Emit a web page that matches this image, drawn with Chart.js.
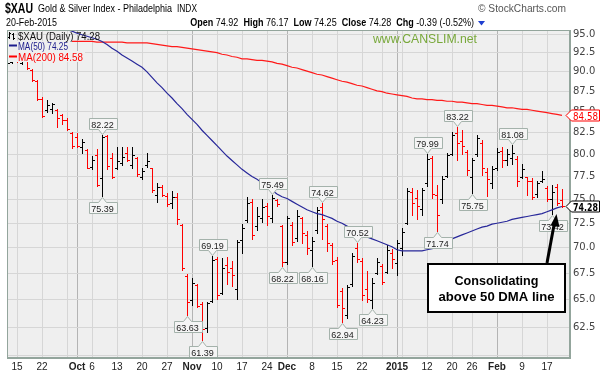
<!DOCTYPE html>
<html>
<head>
<meta charset="utf-8">
<script src="https://cdn.jsdelivr.net/npm/chart.js@4.4.1/dist/chart.umd.min.js"></script>
<style>
  html, body { margin: 0; padding: 0; background: #fff; }
  canvas { display: block; }
</style>
</head>
<body>
<canvas id="chart" width="606" height="374"></canvas>
<script>
// trading days shown (MM-DD), Sep 11 2014 .. Feb 20 2015
const dates = [
  '09-11','09-12','09-15','09-16','09-17','09-18','09-19','09-22','09-23','09-24','09-25','09-26','09-29','09-30',
  '10-01','10-02','10-03','10-06','10-07','10-08','10-09','10-10','10-13','10-14','10-15','10-16','10-17',
  '10-20','10-21','10-22','10-23','10-24','10-27','10-28','10-29','10-30','10-31',
  '11-03','11-04','11-05','11-06','11-07','11-10','11-11','11-12','11-13','11-14','11-17','11-18','11-19','11-20','11-21',
  '11-24','11-25','11-26','11-28',
  '12-01','12-02','12-03','12-04','12-05','12-08','12-09','12-10','12-11','12-12','12-15','12-16','12-17','12-18','12-19',
  '12-22','12-23','12-24','12-26','12-29','12-30','12-31',
  '01-02','01-05','01-06','01-07','01-08','01-09','01-12','01-13','01-14','01-15','01-16','01-20','01-21','01-22','01-23',
  '01-26','01-27','01-28','01-29','01-30',
  '02-02','02-03','02-04','02-05','02-06','02-09','02-10','02-11','02-12','02-13','02-17','02-18','02-19','02-20'
];

const opens = [
  91.4, 91.3, 91.7, 91.1, 91.4, 90.3, 88.8, 86.6, 85.2, 85.4,
  85.2, 84.6, 84.0, 82.5, 82.0, 80.8, 80.5, 78.6, 79.9, 77.3,
  82.1, 79.6, 78.5, 79.0, 80.2, 78.8, 79.6, 77.5, 78.8, 78.4,
  75.5, 76.3, 75.4, 74.6, 75.3, 72.3, 67.2, 65.0, 66.4, 64.6,
  62.4, 64.9, 68.9, 65.6, 68.3, 68.0, 66.0, 70.8, 72.8, 74.7,
  72.2, 73.0, 74.3, 73.0, 74.9, 72.2, 68.6, 72.3, 71.0, 73.0,
  71.3, 69.8, 71.8, 74.2, 72.2, 70.3, 68.8, 65.8, 63.6, 66.5,
  70.0, 68.7, 66.0, 65.0, 67.5, 68.2, 67.6, 69.5, 68.5, 70.0,
  72.5, 75.8, 75.2, 74.0, 76.8, 79.6, 75.5, 75.0, 77.6, 80.0,
  82.5, 81.5, 80.3, 77.5, 80.0, 81.3, 78.0, 76.8, 78.5, 80.4,
  79.3, 79.6, 79.5, 77.5, 77.4, 77.0, 75.6, 77.0, 76.2, 75.0,
  76.3, 74.92
];
const highs = [
  91.5, 91.9, 92.0, 91.8, 91.6, 90.4, 89.0, 86.8, 86.4, 86.1,
  85.3, 84.7, 84.3, 82.6, 82.5, 81.8, 80.6, 79.8, 80.6, 82.22,
  82.2, 80.1, 80.8, 80.8, 80.8, 80.8, 79.7, 78.4, 80.1, 78.5,
  76.8, 76.6, 75.7, 75.9, 75.7, 72.4, 67.4, 67.0, 66.5, 64.8,
  64.8, 69.19, 69.1, 69.0, 69.1, 68.7, 70.8, 72.4, 75.3, 75.0,
  74.2, 75.0, 74.6, 75.49, 75.0, 72.3, 73.2, 72.6, 73.9, 73.1,
  71.7, 71.1, 74.2, 74.62, 72.4, 70.5, 69.1, 66.1, 66.4, 69.5,
  70.52, 69.0, 67.7, 67.0, 69.0, 68.4, 70.3, 69.9, 70.8, 72.0,
  76.2, 76.2, 76.0, 76.2, 79.99, 79.8, 76.6, 77.6, 80.2, 82.6,
  83.22, 82.8, 80.5, 79.6, 82.2, 81.6, 78.4, 78.7, 80.7, 80.8,
  80.6, 81.08, 79.8, 78.9, 77.5, 77.3, 77.0, 78.1, 76.5, 76.6,
  76.7, 76.17
];
const lows = [
  91.0, 91.1, 91.3, 91.0, 90.4, 88.8, 86.4, 84.4, 85.0, 84.9,
  83.2, 83.6, 82.8, 80.7, 80.8, 80.1, 78.4, 78.3, 76.5, 75.39,
  78.3, 77.3, 78.3, 78.8, 79.2, 78.4, 77.6, 77.2, 78.6, 75.8,
  74.7, 75.4, 74.3, 74.1, 72.4, 67.8, 63.63, 64.5, 64.3, 61.39,
  62.1, 64.8, 65.1, 65.5, 66.5, 66.3, 65.1, 69.5, 72.6, 70.9,
  71.8, 72.6, 72.3, 72.6, 74.3, 68.22, 68.4, 70.3, 70.7, 70.5,
  69.4, 68.16, 71.5, 70.9, 69.7, 68.4, 64.3, 62.94, 63.3, 66.3,
  68.6, 65.0, 64.8, 64.23, 67.4, 66.5, 67.5, 68.0, 67.3, 69.3,
  72.4, 73.4, 72.9, 73.4, 76.5, 75.2, 71.74, 74.6, 77.4, 79.9,
  79.4, 80.0, 77.7, 75.75, 79.8, 77.7, 75.4, 76.2, 78.2, 78.6,
  78.8, 78.9, 76.5, 77.3, 75.5, 75.1, 75.3, 76.9, 74.8, 73.42,
  74.4, 74.25
];
const closes = [
  91.2, 91.6, 91.5, 91.6, 90.5, 88.9, 86.6, 84.5, 85.9, 86.0,
  84.3, 84.0, 83.0, 81.0, 80.9, 81.4, 78.5, 79.4, 76.6, 82.0,
  78.7, 77.5, 79.2, 79.7, 79.4, 79.9, 77.8, 78.1, 79.2, 76.0,
  76.4, 75.5, 74.5, 75.3, 72.9, 68.0, 64.8, 66.6, 64.4, 62.3,
  64.7, 68.8, 65.4, 68.0, 67.6, 67.3, 70.6, 72.0, 74.6, 71.3,
  73.3, 74.2, 73.2, 75.2, 74.5, 68.6, 73.0, 70.6, 73.3, 71.5,
  70.0, 70.7, 73.9, 72.9, 70.5, 68.7, 64.5, 64.2, 66.2, 69.2,
  68.9, 65.4, 65.1, 66.6, 68.6, 66.7, 69.8, 68.9, 70.5, 71.6,
  75.9, 74.6, 74.3, 76.0, 79.5, 75.6, 73.4, 77.2, 79.9, 82.2,
  81.3, 81.0, 78.2, 79.4, 81.9, 78.5, 77.2, 78.3, 80.3, 79.4,
  80.0, 80.2, 77.0, 78.3, 77.0, 75.3, 76.8, 77.2, 75.1, 75.8,
  74.67, 74.28
];

// moving averages (null = off the top of the chart / hidden)
const ma50 = [
  null, null, null, null, null, null, null, null, null, null, null,
  95.8, 95.6, 95.4, 95.1, 94.9, 94.7, 94.5, 94.3, 94.0, 93.6,
  93.1, 92.7, 92.2, 91.8, 91.4, 91.0, 90.6, 90.0, 89.3, 88.6,
  88.0, 87.3, 86.7, 86.0, 85.4, 84.7, 84.1, 83.5, 82.8, 82.2,
  81.6, 81.0, 80.4, 79.8, 79.3, 78.8, 78.3, 77.9, 77.5, 77.2,
  76.8, 76.4, 76.0, 75.6, 75.3, 75.1, 74.8, 74.5, 74.2, 73.9,
  73.7, 73.5, 73.4, 73.2, 73.0, 72.7, 72.5, 72.2, 71.9, 71.6,
  71.4, 71.1, 70.9, 70.7, 70.5, 70.3, 70.1, 69.8, 69.7, 69.7,
  69.7, 69.7, 69.7, 69.8, 69.9, 70.0, 70.3, 70.6, 70.9, 71.1,
  71.3, 71.5, 71.7, 71.9, 72.1, 72.2, 72.4, 72.5, 72.6, 72.7,
  72.9, 73.0, 73.1, 73.2, 73.3, 73.4, 73.5, 73.7, 73.9, 74.1,
  74.25
];
const ma200 = [
  null, null, null, null, null, null, null, null, null, null, null, null, null,
  94.0, 94.0, 94.0, 94.0, 94.0, 93.9, 93.9, 93.9, 93.9, 93.9,
  93.9, 93.8, 93.8, 93.8, 93.8, 93.8, 93.7, 93.6, 93.5, 93.4,
  93.3, 93.3, 93.2, 93.1, 93.0, 92.9, 92.8, 92.7, 92.6, 92.5,
  92.3, 92.2, 92.0, 91.9, 91.7, 91.7, 91.6, 91.5, 91.5, 91.4,
  91.3, 91.1, 91.0, 90.8, 90.6, 90.5, 90.3, 90.1, 89.9, 89.7,
  89.6, 89.4, 89.2, 89.0, 88.8, 88.7, 88.5, 88.3, 88.2, 88.0,
  87.8, 87.6, 87.5, 87.3, 87.2, 87.1, 87.0, 86.9, 86.7, 86.6,
  86.6, 86.5, 86.5, 86.4, 86.4, 86.3, 86.3, 86.2, 86.2, 86.1,
  86.0, 86.0, 85.9, 85.8, 85.8, 85.7, 85.6, 85.5, 85.5, 85.4,
  85.3, 85.3, 85.2, 85.1, 85.0, 84.9, 84.8, 84.7, 84.58
];

// axis ticks
const tickDates = ['09-15','09-22','09-29','10-01','10-06','10-13','10-20','10-27','11-03','11-10','11-17','11-24',
  '12-01','12-08','12-15','12-22','12-29','01-02','01-05','01-12','01-20','01-26','02-02','02-09','02-17'];
const tickLabels = ['15','22','','Oct','6','13','20','27','Nov','10','17','24',
  'Dec','8','15','22','','2015','','12','20','26','Feb','9','17'];
const monthLabels = ['Oct','Nov','Dec','2015','Feb'];
const yTicks = [60, 62.5, 65, 67.5, 70, 72.5, 75, 77.5, 80, 82.5, 85, 87.5, 90, 92.5, 95];

// high / low callouts
const noteDates = ['10-08','10-08','10-31','11-05','11-07','11-25','11-28','12-08','12-10','12-16','12-19','12-24',
  '01-12','01-14','01-21','01-26','02-05','02-18'];
const noteSides = ['H','L','L','L','H','H','L','L','H','L','H','L','H','L','H','L','H','L'];

const PLOT_BG = '#efefef';
const FRAME = '#93a59c';
const UP = '#000000';
const DOWN = '#ff0000';

const tickIdx = tickDates.map(d => dates.indexOf(d));
const labelAt = v => { const i = tickIdx.indexOf(v); return i < 0 ? '' : tickLabels[i]; };
const isMonth = v => monthLabels.includes(labelAt(v));
const pts = arr => arr.map((v, k) => v == null ? null : {x: k, y: v}).filter(p => p);

// draws text squeezed/stretched to a given width, returns the drawn width
function fitText(ctx, txt, x, y, font, color, width, align) {
  ctx.save();
  ctx.font = font;
  ctx.fillStyle = color;
  ctx.textBaseline = 'alphabetic';
  ctx.textAlign = 'left';
  const w = ctx.measureText(txt).width;
  const sx = width ? width / w : 1;
  let x0 = x;
  if (align === 'right') x0 = x - w * sx;
  if (align === 'center') x0 = x - w * sx / 2;
  ctx.translate(x0, y);
  ctx.scale(sx, 1);
  ctx.fillText(txt, 0, 0);
  ctx.restore();
  return w * sx;
}

const background = {
  id: 'background',
  beforeDraw(chart) {
    const {ctx, chartArea: a} = chart;
    ctx.save();
    ctx.fillStyle = '#fff';
    ctx.fillRect(0, 0, chart.width, chart.height);
    ctx.fillStyle = PLOT_BG;
    ctx.fillRect(a.left, a.top, a.right - a.left, a.bottom - a.top);
    ctx.restore();
  }
};

const ohlc = {
  id: 'ohlc',
  beforeDatasetsDraw(chart) {
    const {ctx, chartArea: a} = chart;
    const xs = chart.scales.x, ys = chart.scales.y;
    ctx.save();
    ctx.beginPath();
    ctx.rect(a.left, a.top, a.right - a.left, a.bottom - a.top);
    ctx.clip();
    ctx.lineWidth = 1;
    for (let k = 0; k < dates.length; k++) {
      const px = Math.round(xs.getPixelForValue(k));
      const yh = Math.round(ys.getPixelForValue(highs[k]));
      const yl = Math.round(ys.getPixelForValue(lows[k]));
      const yo = Math.round(ys.getPixelForValue(opens[k]));
      const yc = Math.round(ys.getPixelForValue(closes[k]));
      const up = k === 0 || closes[k] >= closes[k - 1];
      ctx.strokeStyle = up ? UP : DOWN;
      ctx.beginPath();
      ctx.moveTo(px + 0.5, yh);
      ctx.lineTo(px + 0.5, yl + 1);
      ctx.moveTo(px - 2, yo + 0.5);
      ctx.lineTo(px, yo + 0.5);
      ctx.moveTo(px + 1, yc + 0.5);
      ctx.lineTo(px + 3, yc + 0.5);
      ctx.stroke();
    }
    ctx.restore();
  }
};

const overlay = {
  id: 'overlay',
  afterDatasetsDraw(chart) {
    const {ctx} = chart;
    const xs = chart.scales.x, ys = chart.scales.y;
    const last = dates.length - 1;

    // callout boxes
    ctx.save();
    ctx.font = '9px "Liberation Sans", Arial, sans-serif';
    ctx.lineWidth = 1;
    noteDates.forEach((d, n) => {
      const k = dates.indexOf(d);
      const hi = noteSides[n] === 'H';
      const v = hi ? highs[k] : lows[k];
      const txt = v.toFixed(2);
      const px = Math.round(xs.getPixelForValue(k)) + 0.5;
      const py = Math.round(ys.getPixelForValue(v)) + 0.5;
      const w = Math.round(ctx.measureText(txt).width) + 5;
      const h = 11;
      const x0 = Math.round(px - w / 2) + 0.5, x1 = x0 + w;
      const tip = hi ? py - 1 : py + 1;
      const edge = hi ? tip - 5 : tip + 5;
      const far = hi ? edge - h : edge + h;
      ctx.beginPath();
      ctx.moveTo(x0, far);
      ctx.lineTo(x1, far);
      ctx.lineTo(x1, edge);
      ctx.lineTo(px + 4, edge);
      ctx.lineTo(px, tip);
      ctx.lineTo(px - 4, edge);
      ctx.lineTo(x0, edge);
      ctx.closePath();
      ctx.fillStyle = '#f5f5f5';
      ctx.fill();
      ctx.strokeStyle = '#a4b2ab';
      ctx.stroke();
      ctx.fillStyle = '#222';
      ctx.textAlign = 'center';
      ctx.textBaseline = 'alphabetic';
      const top = Math.min(far, edge);
      ctx.fillText(txt, px, top + 9);
    });
    ctx.restore();

    // legend inside plot (rows 2 and 3 sit on a plain backing)
    ctx.save();
    ctx.fillStyle = PLOT_BG;
    ctx.fillRect(8, 41, 62, 10);
    ctx.fillRect(8, 51, 77, 11);
    ctx.strokeStyle = '#000';
    ctx.lineWidth = 1;
    ctx.beginPath();
    ctx.moveTo(9.5, 32); ctx.lineTo(9.5, 39);
    ctx.moveTo(8, 37.5); ctx.lineTo(9.5, 37.5);
    ctx.moveTo(9.5, 33.5); ctx.lineTo(11, 33.5);
    ctx.moveTo(13.5, 33); ctx.lineTo(13.5, 40);
    ctx.moveTo(12, 34.5); ctx.lineTo(13.5, 34.5);
    ctx.moveTo(13.5, 38.5); ctx.lineTo(15, 38.5);
    ctx.stroke();
    ctx.lineWidth = 2;
    ctx.strokeStyle = '#1c1c8c';
    ctx.beginPath(); ctx.moveTo(9, 45.5); ctx.lineTo(17, 45.5); ctx.stroke();
    ctx.strokeStyle = '#ff0000';
    ctx.beginPath(); ctx.moveTo(9, 56.5); ctx.lineTo(17, 56.5); ctx.stroke();
    ctx.restore();
    const lf = '10px "Liberation Sans", Arial, sans-serif';
    fitText(ctx, '$XAU (Daily) ' + closes[last].toFixed(2), 18, 39.5, lf, '#111', 82);
    fitText(ctx, 'MA(50) ' + ma50[last].toFixed(2), 18, 49.5, lf, '#1c1c8c', 50);
    fitText(ctx, 'MA(200) ' + ma200[last].toFixed(2), 18, 60.5, lf, '#ff0000', 65);

    // watermark
    fitText(ctx, 'www.CANSLIM.net', 373, 42.5, '13px "Liberation Sans", Arial, sans-serif', '#78a83a', 104);

    // note box + arrow
    ctx.save();
    ctx.fillStyle = '#fff';
    ctx.fillRect(427, 263, 139, 50);
    ctx.strokeStyle = '#000';
    ctx.lineWidth = 2;
    ctx.strokeRect(428, 264, 137, 48);
    ctx.restore();
    const nf = 'bold 13px "Liberation Sans", Arial, sans-serif';
    fitText(ctx, 'Consolidating', 496.5, 285, nf, '#000', 84, 'center');
    fitText(ctx, 'above 50 DMA line', 496.5, 301, nf, '#000', 116, 'center');
    ctx.save();
    ctx.strokeStyle = '#000';
    ctx.fillStyle = '#000';
    ctx.lineWidth = 3;
    ctx.beginPath();
    ctx.moveTo(547, 263);
    ctx.lineTo(554, 225);
    ctx.stroke();
    ctx.beginPath();
    ctx.moveTo(556.5, 214);
    ctx.lineTo(559.5, 227);
    ctx.lineTo(550.5, 225.5);
    ctx.closePath();
    ctx.fill();
    ctx.restore();
  },
  afterDraw(chart) {
    const {ctx, chartArea: a} = chart;
    const ys = chart.scales.y;
    const last = dates.length - 1;

    // frame
    ctx.save();
    ctx.strokeStyle = FRAME;
    ctx.lineWidth = 1;
    ctx.strokeRect(Math.round(a.left) + 0.5, Math.round(a.top) + 0.5,
      Math.round(a.right - a.left) - 1, Math.round(a.bottom - a.top) - 1);
    ctx.restore();

    // right-axis value tags
    const tag = (v, color, bold) => {
      const ty = Math.round(ys.getPixelForValue(v)) + 0.5;
      ctx.save();
      ctx.beginPath();
      ctx.moveTo(566, ty);
      ctx.lineTo(571.5, ty - 5.5);
      ctx.lineTo(599.5, ty - 5.5);
      ctx.lineTo(599.5, ty + 5.5);
      ctx.lineTo(571.5, ty + 5.5);
      ctx.closePath();
      ctx.fillStyle = '#fff';
      ctx.fill();
      ctx.strokeStyle = color;
      ctx.lineWidth = 1;
      ctx.stroke();
      ctx.restore();
      fitText(ctx, v.toFixed(2), 585.5, ty + 4, (bold ? 'bold ' : '') + '10px "DejaVu Sans", sans-serif', color, 25, 'center');
    };
    tag(ma200[last], '#ff0000', false);
    tag(closes[last], '#000', true);

    // header
    const hf = '11px "Liberation Sans", Arial, sans-serif';
    const hb = 'bold 11px "Liberation Sans", Arial, sans-serif';
    fitText(ctx, '$XAU', 5, 13, 'bold 14px "Liberation Sans", Arial, sans-serif', '#000', 28);
    fitText(ctx, 'Gold & Silver Index - Philadelphia', 38, 12, hf, '#000', 134);
    fitText(ctx, 'INDX', 177, 12, '10px "Liberation Sans", Arial, sans-serif', '#000', 20);
    fitText(ctx, '\u00a9 StockCharts.com', 566, 12, hf, '#555', 88, 'right');
    fitText(ctx, '20-Feb-2015', 6, 26, hf, '#000', 51);

    const chg = closes[last] - closes[last - 1];
    const pct = chg / closes[last - 1] * 100;
    const runs = [
      ['Open', hb], [' ' + opens[last].toFixed(2) + '  ', hf],
      ['High', hb], [' ' + highs[last].toFixed(2) + '  ', hf],
      ['Low', hb], [' ' + lows[last].toFixed(2) + '  ', hf],
      ['Close', hb], [' ' + closes[last].toFixed(2) + '  ', hf],
      ['Chg', hb], [' ' + chg.toFixed(2) + ' (' + pct.toFixed(2) + '%)', hf]
    ];
    const sx = 0.82;
    const widths = runs.map(r => { ctx.save(); ctx.font = r[1]; const w = ctx.measureText(r[0]).width * sx; ctx.restore(); return w; });
    let x = 474 - widths.reduce((s, w) => s + w, 0);
    runs.forEach((r, i) => {
      fitText(ctx, r[0], x, 26, r[1], '#000', widths[i]);
      x += widths[i];
    });
    ctx.save();
    ctx.fillStyle = '#1f3fd0';
    ctx.beginPath();
    ctx.moveTo(478, 21); ctx.lineTo(485, 21); ctx.lineTo(481.5, 25.5);
    ctx.closePath(); ctx.fill();
    ctx.restore();
  }
};

new Chart(document.getElementById('chart'), {
  type: 'line',
  data: {
    datasets: [
      { label: 'MA(50)', data: pts(ma50), borderColor: '#28289a', borderWidth: 1.2,
        pointRadius: 0, tension: 0, clip: 0 },
      { label: 'MA(200)', data: pts(ma200), borderColor: '#ff1a1a', borderWidth: 1.2,
        pointRadius: 0, tension: 0, clip: 0 }
    ]
  },
  options: {
    responsive: false,
    animation: false,
    devicePixelRatio: 1,
    layout: { padding: { left: 7, top: 30, right: 0, bottom: 0 } },
    plugins: { legend: { display: false }, tooltip: { enabled: false } },
    scales: {
      x: {
        type: 'linear', min: 0, max: 112.6,
        afterFit(s) { s.height = 16; },
        afterBuildTicks(s) { s.ticks = tickIdx.map(v => ({ value: v })); },
        ticks: {
          autoSkip: false, maxRotation: 0, padding: 3, color: '#222',
          font: c => ({ family: '"Liberation Sans", Arial, sans-serif', size: 10,
            weight: c.tick && isMonth(c.tick.value) ? 'bold' : 'normal' }),
          callback: v => labelAt(v)
        },
        grid: { drawTicks: false, color: c => c.tick && isMonth(c.tick.value) ? '#b4b4b4' : '#d6d6d6' },
        border: { display: true, color: FRAME }
      },
      y: {
        type: 'logarithmic', position: 'right', min: 59.8, max: 95.55,
        afterFit(s) { s.width = 36; },
        afterBuildTicks(s) { s.ticks = yTicks.map(v => ({ value: v })); },
        ticks: {
          padding: 3, color: '#444',
          font: { family: '"DejaVu Sans", sans-serif', size: 10 },
          callback: v => v < 62 ? '' : Number(v).toFixed(1)
        },
        grid: { drawTicks: false, color: '#d6d6d6' },
        border: { display: true, color: FRAME }
      }
    }
  },
  plugins: [background, ohlc, overlay]
});
</script>
</body>
</html>
